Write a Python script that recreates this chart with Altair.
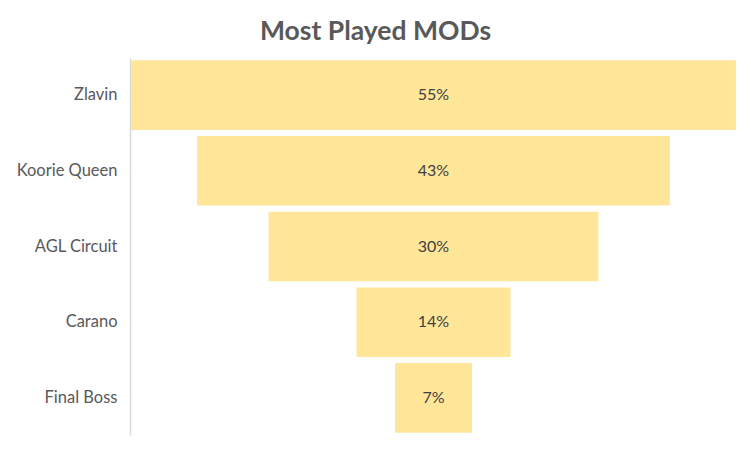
import altair as alt
import pandas as pd

categories = ["Zlavin", "Koorie Queen", "AGL Circuit", "Carano", "Final Boss"]
values = [55, 43, 30, 14, 7]
labels = ["55%", "43%", "30%", "14%", "7%"]

df = pd.DataFrame({"cat": categories, "val": values, "label": labels})

FONT = "Lato"

base = alt.Chart(df).transform_calculate(
    lo="-datum.val / 2", hi="datum.val / 2"
)

y = alt.Y(
    "cat:N",
    sort=categories,
    title=None,
    scale=alt.Scale(paddingInner=0.08, paddingOuter=0.03),
    axis=alt.Axis(
        ticks=False,
        domainColor="#d9d9d9",
        domainWidth=1.5,
        labelColor="#595959",
        labelFontSize=16.5,
        labelFont=FONT,
        labelPadding=13,
    ),
)

xscale = alt.Scale(domain=[-27.6, 27.6], nice=False, zero=False)

bars = base.mark_bar(color="#FFE699").encode(
    x=alt.X("lo:Q", scale=xscale, axis=None),
    x2="hi:Q",
    y=y,
)

text = base.mark_text(color="#404040", fontSize=16, font=FONT).encode(
    x=alt.X("zero:Q", scale=xscale, axis=None),
    y=alt.Y("cat:N", sort=categories),
    text="label:N",
).transform_calculate(zero="0")

chart = (
    alt.layer(bars, text)
    .properties(
        width=607,
        height=377,
        background="white",
        title=alt.TitleParams(
            "Most Played MODs",
            font=FONT,
            fontSize=26.5,
            fontWeight="bold",
            color="#595959",
            anchor="middle",
            dx=-58,
            offset=13,
        ),
        padding={"left": 122, "top": 50, "right": 6, "bottom": 8},
        autosize=alt.AutoSizeParams(type="none"),
    )
    .configure_view(strokeWidth=0, stroke="transparent")
)

chart.save("out.html", embed_options={"renderer": "svg", "actions": False})
